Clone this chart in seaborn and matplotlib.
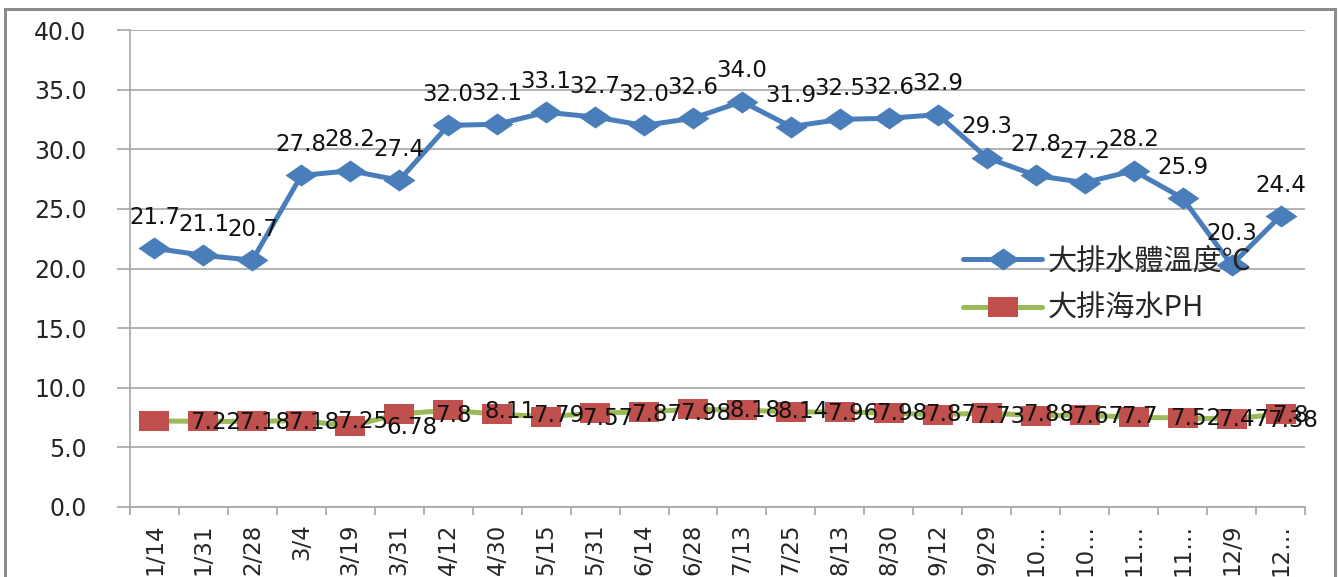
import matplotlib

matplotlib.use('Agg')
import matplotlib.pyplot as plt
from matplotlib.patches import Rectangle
from matplotlib.path import Path
import numpy as np
import pandas as pd
import seaborn as sns

# data
dates = ['1/14', '1/31', '2/28', '3/4', '3/19', '3/31', '4/12', '4/30', '5/15', '5/31',
         '6/14', '6/28', '7/13', '7/25', '8/13', '8/30', '9/12', '9/29',
         '10…', '10…', '11…', '11…', '12/9', '12…']
temp = [21.7, 21.1, 20.7, 27.8, 28.2, 27.4, 32.0, 32.1, 33.1, 32.7, 32.0, 32.6,
        34.0, 31.9, 32.5, 32.6, 32.9, 29.3, 27.8, 27.2, 28.2, 25.9, 20.3, 24.4]
ph = [7.22, 7.18, 7.18, 7.25, 6.78, 7.8, 8.11, 7.79, 7.57, 7.87, 7.98, 8.18,
      8.14, 7.96, 7.98, 7.87, 7.73, 7.88, 7.67, 7.7, 7.52, 7.47, 7.38, 7.8]
temp_name = '大排水體溫度℃'
ph_name = '大排海水PH'

df = pd.DataFrame({'idx': np.arange(len(dates)), 'temp': temp, 'ph': ph})

sns.set_style('white')
plt.rcParams['font.family'] = ['DejaVu Sans', 'Noto Sans CJK TC']

BLUE = '#4A7EBB'
GREEN = '#9BBB59'
RED = '#C0504D'
GRID = '#A6A6A6'
PX = 72 / 100  # points per pixel
FS = 16.5

# wide markers, the reference is stretched sideways
diamond = Path([(-1.45, 0), (0, 1), (1.45, 0), (0, -1), (-1.45, 0)],
               [Path.MOVETO, Path.LINETO, Path.LINETO, Path.LINETO, Path.CLOSEPOLY])
rect = Path([(-1.5, -1), (1.5, -1), (1.5, 1), (-1.5, 1), (-1.5, -1)],
            [Path.MOVETO, Path.LINETO, Path.LINETO, Path.LINETO, Path.CLOSEPOLY])

fig = plt.figure(figsize=(13.38, 5.77), dpi=100)
ax = fig.add_axes([130 / 1338, 1 - 507 / 577, 1175 / 1338, 477 / 577])

sns.lineplot(data=df, x='idx', y='ph', ax=ax, color=GREEN, lw=5 * PX,
             marker=rect, markersize=30 * PX, markerfacecolor=RED,
             markeredgecolor=RED, markeredgewidth=0, label=ph_name, zorder=3)
sns.lineplot(data=df, x='idx', y='temp', ax=ax, color=BLUE, lw=5 * PX,
             marker=diamond, markersize=32 * PX, markerfacecolor=BLUE,
             markeredgecolor=BLUE, markeredgewidth=0, label=temp_name, zorder=4)

for i, v in enumerate(temp):
    ax.annotate(f'{v:.1f}', (i, v), xytext=(0, 31 * PX), textcoords='offset points',
                ha='center', va='center', fontsize=FS, color='#111111', zorder=6)
for i, v in enumerate(ph):
    dx = 36 if i < len(ph) - 1 else -8
    ax.annotate(f'{v:g}', (i, v), xytext=(dx * PX, -1), textcoords='offset points',
                ha='left', va='center', fontsize=FS, color='#111111', zorder=6)

ax.set_xlim(-0.5, len(dates) - 0.5)
ax.set_ylim(0, 40)
ax.set_yticks(np.arange(0, 41, 5))
ax.set_yticklabels([f'{t:.1f}' for t in np.arange(0, 41, 5)], fontsize=17)
ax.set_xticks(df['idx'])
ax.set_xticklabels(dates, rotation=90, fontsize=16.5)
ax.set_xticks(np.arange(-0.5, len(dates)), minor=True)
ax.set_xlabel('')
ax.set_ylabel('')

ax.yaxis.grid(True, color=GRID, lw=1.2)
ax.xaxis.grid(False)
ax.tick_params(axis='y', length=13 * PX, width=1.2, color=GRID, pad=22, direction='out', left=True)
ax.tick_params(axis='x', which='major', length=0, pad=12)
ax.tick_params(axis='x', which='minor', length=8 * PX, width=1.2, color=GRID, direction='out', bottom=True)
for s in ['top', 'right']:
    ax.spines[s].set_visible(False)
for s in ['left', 'bottom']:
    ax.spines[s].set_color(GRID)
    ax.spines[s].set_linewidth(1.2)

handles, labels = ax.get_legend_handles_labels()
order = [labels.index(temp_name), labels.index(ph_name)]
ax.legend([handles[k] for k in order], [labels[k] for k in order],
          loc='upper left', bbox_to_anchor=(937 / 1338, 1 - 220 / 577),
          bbox_transform=fig.transFigure, frameon=False,
          handlelength=2.7, handletextpad=0.2, labelspacing=0.6,
          prop={'family': ['Noto Sans CJK TC', 'DejaVu Sans'], 'size': 21})

# chart area border
fig.patches.append(Rectangle((5 / 1338, -0.1), 1330 / 1338, 1.1 - 9 / 577,
                             transform=fig.transFigure, fill=False,
                             edgecolor='#8C8C8C', lw=3 * PX))

fig.savefig('out.png', dpi=100)
